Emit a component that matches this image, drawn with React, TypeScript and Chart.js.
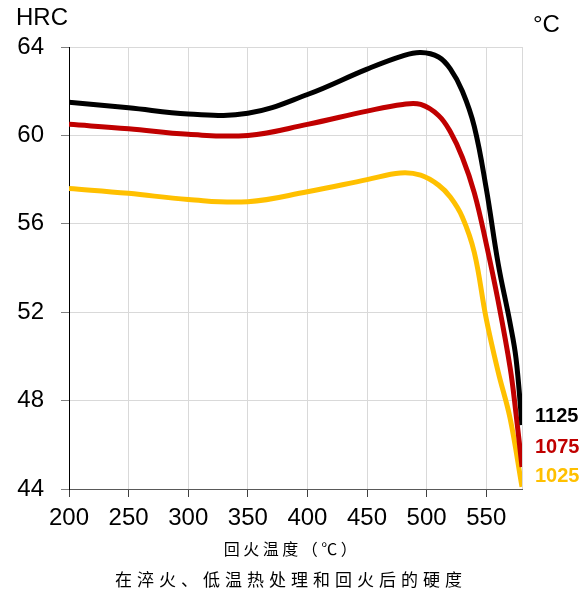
import React, { useEffect, useRef } from 'react';
import { Chart, registerables } from 'chart.js';

Chart.register(...registerables);

// Tempering temperature (°C) and hardness (HRC) for each hardening temperature
const TEMP_1125 = [200, 250, 300, 350, 400, 450, 480, 495, 510, 520, 530, 540, 550, 560, 570, 575, 580];
const HRC_1125 = [61.5, 61.25, 60.97, 61.0, 61.85, 63.0, 63.6, 63.75, 63.55, 63.0, 62.0, 60.4, 57.6, 54.2, 51.5, 49.9, 46.9];

const TEMP_1075 = [200, 250, 300, 350, 400, 450, 480, 495, 510, 520, 530, 540, 550, 560, 570, 575, 580];
const HRC_1075 = [60.5, 60.3, 60.05, 60.0, 60.5, 61.1, 61.4, 61.4, 60.9, 60.15, 59.0, 57.4, 55.1, 52.5, 49.5, 47.4, 45.0];

const TEMP_1025 = [200, 250, 300, 350, 400, 450, 478, 495, 510, 520, 530, 540, 550, 560, 570, 580];
const HRC_1025 = [57.6, 57.38, 57.1, 57.0, 57.45, 58.0, 58.3, 58.2, 57.75, 57.2, 56.3, 54.7, 51.7, 49.3, 47.2, 44.1];

const SERIES_NAMES = ['1125', '1075', '1025'];
const SERIES_COLORS = ['#000000', '#c00000', '#ffc000'];

const X_TICKS = [200, 250, 300, 350, 400, 450, 500, 550, 580];
const X_LABELLED = [200, 250, 300, 350, 400, 450, 500, 550];
const Y_MIN = 44;
const Y_MAX = 64;
const Y_STEP = 4;

const Y_TITLE = 'HRC';
const UNIT_LABEL = '°C';
const X_TITLE = '回火温度（℃）';
const CAPTION = '在淬火、低温热处理和回火后的硬度';

const LATIN = '"Liberation Sans", Arial, sans-serif';
const CJK = '"Noto Sans CJK SC", sans-serif';

function pts(xs: number[], ys: number[]) {
  return xs.map((x, i) => ({ x, y: ys[i] }));
}

const textPlugin = {
  id: 'texts',
  afterDraw(chart: any) {
    const ctx = chart.ctx as CanvasRenderingContext2D;
    ctx.save();
    ctx.fillStyle = '#000';
    ctx.textAlign = 'left';
    ctx.textBaseline = 'alphabetic';
    ctx.font = `24px ${LATIN}`;
    ctx.fillText(Y_TITLE, 16, 25);
    ctx.fillText(UNIT_LABEL, 533, 32);

    const baselines = [422, 453, 482];
    ctx.font = `bold 20px ${LATIN}`;
    SERIES_NAMES.forEach((n, i) => {
      ctx.fillStyle = SERIES_COLORS[i];
      ctx.fillText(n, 535, baselines[i]);
    });

    ctx.fillStyle = '#000';
    ctx.textAlign = 'center';
    ctx.textBaseline = 'middle';
    (ctx as any).letterSpacing = '3.5px';
    ctx.font = `16px ${CJK}`;
    ctx.fillText(X_TITLE, 292, 549);
    (ctx as any).letterSpacing = '5px';
    ctx.font = `17px ${CJK}`;
    ctx.fillText(CAPTION, 291, 580);
    ctx.restore();
  },
};

export default function App() {
  const ref = useRef<HTMLCanvasElement>(null);

  useEffect(() => {
    if (!ref.current) return;
    const data = [pts(TEMP_1125, HRC_1125), pts(TEMP_1075, HRC_1075), pts(TEMP_1025, HRC_1025)];
    const chart = new Chart(ref.current, {
      type: 'line',
      data: {
        datasets: data.map((d, i) => ({
          label: SERIES_NAMES[i],
          data: d,
          borderColor: SERIES_COLORS[i],
          backgroundColor: SERIES_COLORS[i],
          borderWidth: 5,
          pointRadius: 0,
          tension: 0.4,
          fill: false,
        })),
      },
      options: {
        responsive: false,
        animation: false,
        layout: { padding: { top: 47, right: 63, left: 0, bottom: 0 } },
        plugins: { legend: { display: false }, tooltip: { enabled: false }, title: { display: false } },
        scales: {
          x: {
            type: 'linear',
            min: X_TICKS[0],
            max: X_TICKS[X_TICKS.length - 1],
            afterBuildTicks: (s: any) => {
              s.ticks = X_TICKS.map((v) => ({ value: v }));
            },
            afterFit: (s: any) => {
              s.height = 104;
            },
            ticks: {
              autoSkip: false,
              maxRotation: 0,
              padding: 7,
              color: '#000',
              font: { family: LATIN, size: 24 },
              callback: (v: any) => (X_LABELLED.includes(Number(v)) ? String(v) : ''),
            },
            grid: {
              color: '#d9d9d9',
              lineWidth: 1,
              tickLength: 8,
              tickColor: (c: any) => (c.tick && X_LABELLED.includes(c.tick.value) ? '#404040' : 'rgba(0,0,0,0)'),
            },
            border: { color: '#595959', width: 1 },
          },
          y: {
            type: 'linear',
            min: Y_MIN,
            max: Y_MAX,
            afterFit: (s: any) => {
              s.width = 69;
            },
            ticks: {
              stepSize: Y_STEP,
              padding: 17,
              color: '#000',
              font: { family: LATIN, size: 24 },
            },
            grid: { color: '#d9d9d9', lineWidth: 1, tickLength: 8, tickColor: '#808080' },
            border: { color: '#000', width: 1 },
          },
        },
      },
      plugins: [textPlugin],
    });
    return () => chart.destroy();
  }, []);

  return (
    <div style={{ position: 'fixed', left: 0, top: 0, width: 585, height: 593, background: '#fff' }}>
      <canvas ref={ref} width={585} height={593} style={{ display: 'block' }} />
    </div>
  );
}
